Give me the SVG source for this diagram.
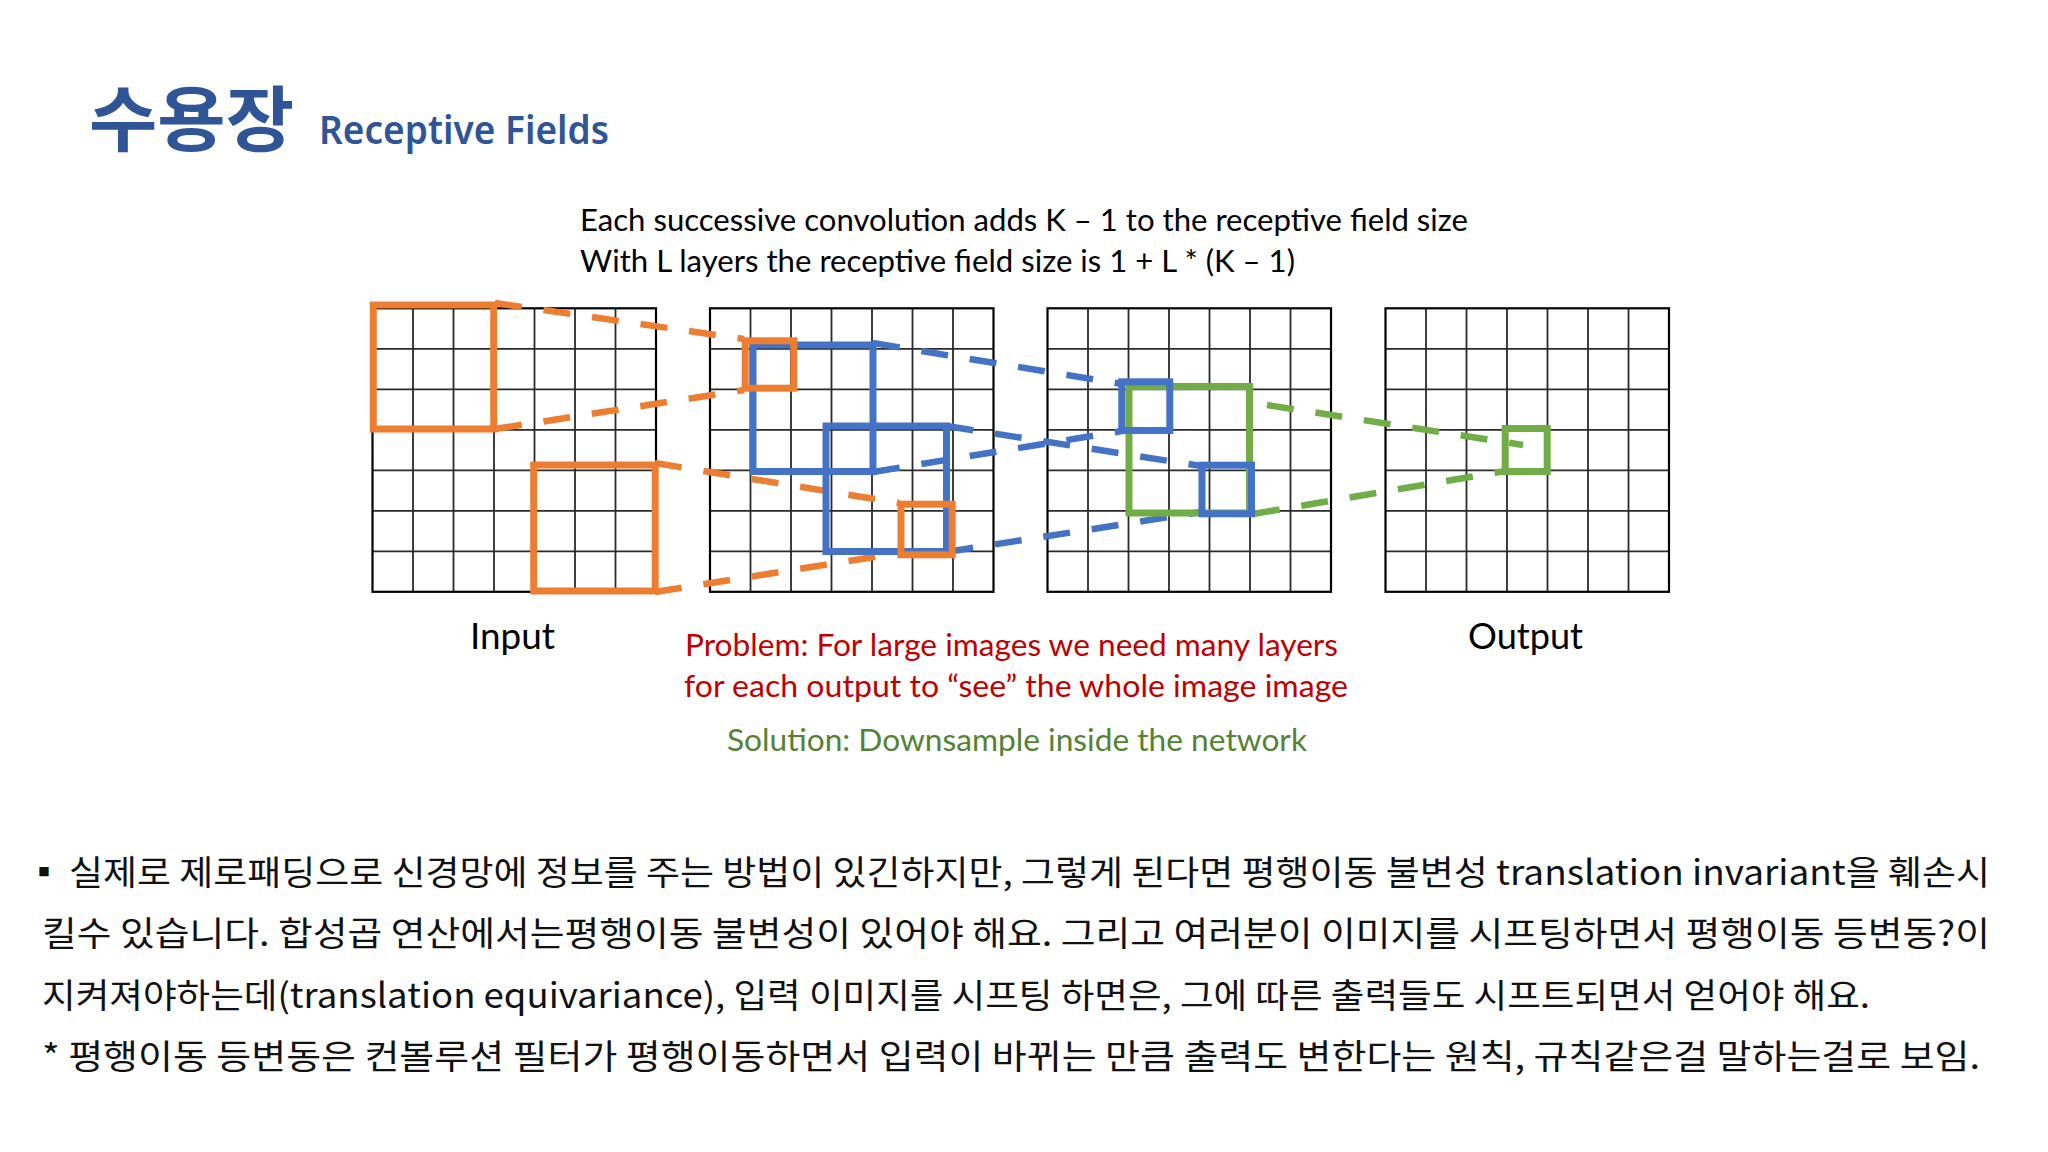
<svg xmlns="http://www.w3.org/2000/svg" xmlns:xlink="http://www.w3.org/1999/xlink" width="2048" height="1152" viewBox="0 0 2048 1152">
  <style>
    .gridin { fill: none; stroke: #2a2a2a; stroke-width: 1.8; }
    .gridout { fill: none; stroke: #000; stroke-width: 2.2; }
    .box { fill: none; stroke-width: 7; stroke-linejoin: miter; }
    .dash { fill: none; stroke-width: 6.5; stroke-dasharray: 27 22; stroke-linecap: butt; }
    .or { stroke: #ED7D31; }
    .bl { stroke: #4472C4; }
    .gr { stroke: #70AD47; }
    .cal { font-family: Lato, "Liberation Sans", sans-serif; }
    .kr { font-family: "Noto Sans CJK KR", "Noto Sans", sans-serif; font-size: 34px; fill: #111; }
  </style>
  <defs>
    <g id="grid7">
      <path class="gridin" d="M40.5 0V283.5M81 0V283.5M121.5 0V283.5M162 0V283.5M202.5 0V283.5M243 0V283.5M0 40.5H283.5M0 81H283.5M0 121.5H283.5M0 162H283.5M0 202.5H283.5M0 243H283.5"/>
      <rect class="gridout" x="0" y="0" width="283.5" height="283.5"/>
    </g>
  </defs>
  <rect width="2048" height="1152" fill="#fff"/>

  <g id="title">
    <text x="89" y="145" font-family="'Noto Sans CJK KR', sans-serif" font-weight="700" font-size="71" fill="#2F5597" textLength="205" lengthAdjust="spacingAndGlyphs">수용장</text>
    <text x="319" y="143.5" font-family="'Noto Sans', 'Liberation Sans', sans-serif" font-weight="600" font-size="39" fill="#2F5597" textLength="290" lengthAdjust="spacingAndGlyphs">Receptive Fields</text>
  </g>

  <g id="caption">
    <text class="cal" x="580" y="231" font-size="30" fill="#000" textLength="888" lengthAdjust="spacingAndGlyphs">Each successive convolution adds K – 1 to the receptive field size</text>
    <text class="cal" x="580" y="272" font-size="30" fill="#000" textLength="715" lengthAdjust="spacingAndGlyphs">With L layers the receptive field size is 1 + L * (K – 1)</text>
  </g>

  <g id="grid-input"><use xlink:href="#grid7" href="#grid7" x="372.5" y="308.3"/></g>
  <g id="grid-layer1"><use xlink:href="#grid7" href="#grid7" x="710" y="308.3"/></g>
  <g id="grid-layer2"><use xlink:href="#grid7" href="#grid7" x="1047.5" y="308.3"/></g>
  <g id="grid-output"><use xlink:href="#grid7" href="#grid7" x="1385.5" y="308.3"/></g>

  <g id="connectors">
    <line class="dash or" x1="495" y1="303" x2="744" y2="339"/>
    <line class="dash or" x1="495" y1="429" x2="744" y2="390"/>
    <line class="dash or" x1="655" y1="463" x2="899" y2="503"/>
    <line class="dash or" x1="655" y1="592" x2="899" y2="553"/>
    <line class="dash bl" x1="873" y1="343" x2="1122" y2="384"/>
    <line class="dash bl" x1="873" y1="472" x2="1122" y2="431"/>
    <line class="dash bl" x1="946.5" y1="426" x2="1201" y2="466"/>
    <line class="dash bl" x1="946.5" y1="552" x2="1201" y2="512"/>
    <line class="dash gr" x1="1267" y1="405" x2="1523" y2="445"/>
    <line class="dash gr" x1="1253" y1="514" x2="1505" y2="471"/>
  </g>

  <g id="box-input-1"><rect class="box or" x="373.3" y="305" width="120.4" height="124"/></g>
  <g id="box-input-2"><rect class="box or" x="533.7" y="465" width="121.5" height="126"/></g>
  <g id="box-l1-blue-a"><rect class="box bl" x="753" y="345" width="120" height="126.5"/></g>
  <g id="box-l1-blue-b"><rect class="box bl" x="826" y="426" width="120.5" height="125.5"/></g>
  <g id="box-l1-orange-1"><rect class="box or" x="745.2" y="340.8" width="48.6" height="47.4"/></g>
  <g id="box-l1-orange-2"><rect class="box or" x="901" y="504.2" width="51.2" height="50.6"/></g>
  <g id="box-l2-green"><rect class="box gr" x="1129" y="386.5" width="120.5" height="126.5"/></g>
  <g id="box-l2-blue-1"><rect class="box bl" x="1121.8" y="381.8" width="48" height="48.7"/></g>
  <g id="box-l2-blue-2"><rect class="box bl" x="1202" y="465.2" width="49.5" height="48.6"/></g>
  <g id="box-output-green"><rect class="box gr" x="1505.2" y="428.5" width="42" height="43"/></g>

  <g id="labels">
    <text class="cal" x="470" y="649" font-size="36" fill="#000" textLength="85" lengthAdjust="spacingAndGlyphs">Input</text>
    <text class="cal" x="1468" y="649" font-size="36" fill="#000" textLength="115" lengthAdjust="spacingAndGlyphs">Output</text>
    <text class="cal" x="685" y="656" font-size="30" fill="#C00000" textLength="653" lengthAdjust="spacingAndGlyphs">Problem: For large images we need many layers</text>
    <text class="cal" x="684" y="697" font-size="30" fill="#C00000" textLength="664" lengthAdjust="spacingAndGlyphs">for each output to “see” the whole image image</text>
    <text class="cal" x="727" y="751" font-size="30" fill="#548235" textLength="580" lengthAdjust="spacingAndGlyphs">Solution: Downsample inside the network</text>
  </g>

  <g id="notes">
    <text class="kr" x="27" y="885">▪</text>
    <text class="kr" x="69" y="885" textLength="1921" lengthAdjust="spacingAndGlyphs">실제로 제로패딩으로 신경망에 정보를 주는 방법이 있긴하지만, 그렇게 된다면 평행이동 불변성 translation invariant을 훼손시</text>
    <text class="kr" x="42" y="946" textLength="1948" lengthAdjust="spacingAndGlyphs">킬수 있습니다. 합성곱 연산에서는평행이동 불변성이 있어야 해요. 그리고 여러분이 이미지를 시프팅하면서 평행이동 등변동?이</text>
    <text class="kr" x="42" y="1008" textLength="1828" lengthAdjust="spacingAndGlyphs">지켜져야하는데(translation equivariance), 입력 이미지를 시프팅 하면은, 그에 따른 출력들도 시프트되면서 얻어야 해요.</text>
    <text class="kr" x="42" y="1069" textLength="1938" lengthAdjust="spacingAndGlyphs">* 평행이동 등변동은 컨볼루션 필터가 평행이동하면서 입력이 바뀌는 만큼 출력도 변한다는 원칙, 규칙같은걸 말하는걸로 보임.</text>
  </g>
</svg>
